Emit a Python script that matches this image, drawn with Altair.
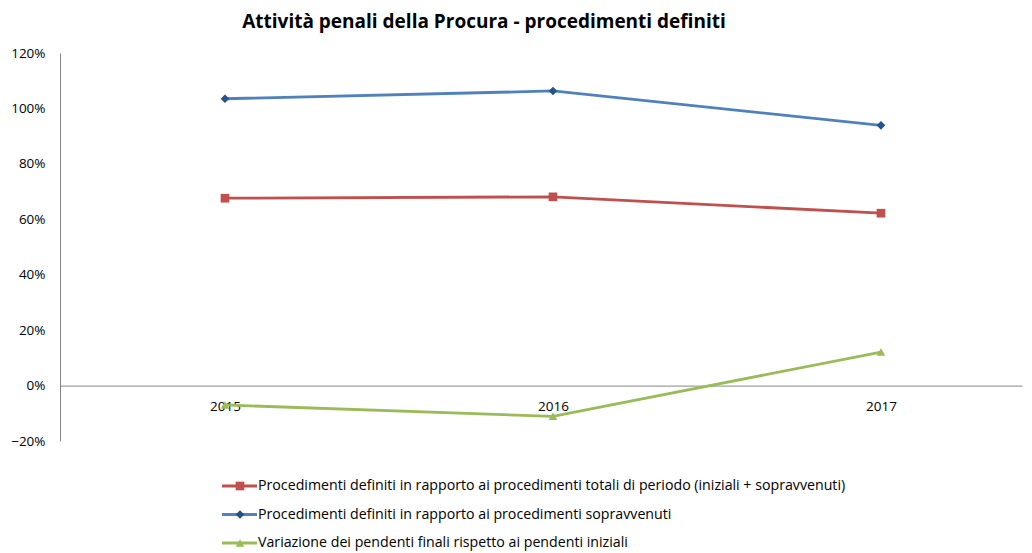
import altair as alt
import pandas as pd

years = [2015, 2016, 2017]
series_names = [
    "Procedimenti definiti in rapporto ai procedimenti totali di periodo (iniziali + sopravvenuti)",
    "Procedimenti definiti in rapporto ai procedimenti sopravvenuti",
    "Variazione dei pendenti finali rispetto ai pendenti iniziali",
]
definiti_totali = [0.676, 0.681, 0.622]
definiti_sopravvenuti = [1.035, 1.063, 0.939]
variazione_pendenti = [-0.070, -0.111, 0.121]
y_ticks = [-0.2, 0.0, 0.2, 0.4, 0.6, 0.8, 1.0, 1.2]
title_text = "Attività penali della Procura - procedimenti definiti"

line_colors = ["#C0504D", "#4F81BD", "#9BBB59"]
marker_colors = ["#C0504D", "#27518A", "#9BBB59"]
marker_shapes = ["square", "diamond", "triangle-up"]

rows = []
for name, vals in zip(series_names, [definiti_totali, definiti_sopravvenuti, variazione_pendenti]):
    for yr, v in zip(years, vals):
        rows.append({"series": name, "year": yr, "value": v})
df = pd.DataFrame(rows)
legend_df = pd.DataFrame({"series": series_names, "row": [0, 1, 2]})

FONT = "Open Sans"
AXIS_COLOR = "#868686"

x_scale = alt.Scale(domain=[2014.497, 2017.430], nice=False, zero=False)
x_axis = alt.Axis(values=years, format="d", title=None, offset=-55.4, ticks=False,
                  labelPadding=14, grid=False, domainColor=AXIS_COLOR,
                  labelFont=FONT, labelFontSize=13.5, labelColor="#000000")
y_scale = alt.Scale(domain=[-0.2, 1.2], nice=False, zero=False)
y_axis = alt.Axis(values=y_ticks, format=".0%", title=None, ticks=False, labelPadding=15,
                  grid=False, domainColor=AXIS_COLOR, labelFont=FONT, labelFontSize=13.5,
                  labelColor="#000000")

lines = alt.Chart(df).mark_line(strokeWidth=2.8).encode(
    x=alt.X("year:Q", scale=x_scale, axis=x_axis),
    y=alt.Y("value:Q", scale=y_scale, axis=y_axis),
    color=alt.Color("series:N", scale=alt.Scale(domain=series_names, range=line_colors), legend=None),
)
points = alt.Chart(df).mark_point(filled=True, size=75, opacity=1).encode(
    x=alt.X("year:Q", scale=x_scale, axis=x_axis),
    y=alt.Y("value:Q", scale=y_scale, axis=None),
    color=alt.Color("series:N", scale=alt.Scale(domain=series_names, range=marker_colors), legend=None),
    shape=alt.Shape("series:N", scale=alt.Scale(domain=series_names, range=marker_shapes), legend=None),
)

leg_y = alt.Y("row:Q", scale=alt.Scale(domain=[0, 2], range=[433, 490]), axis=None)
leg_rule = alt.Chart(legend_df).mark_rule(strokeWidth=2.8).encode(
    x=alt.value(162), x2=alt.value(197), y=leg_y,
    color=alt.Color("series:N", scale=alt.Scale(domain=series_names, range=line_colors), legend=None),
)
leg_points = alt.Chart(legend_df).mark_point(filled=True, size=75, opacity=1).encode(
    x=alt.value(180), y=leg_y,
    color=alt.Color("series:N", scale=alt.Scale(domain=series_names, range=marker_colors), legend=None),
    shape=alt.Shape("series:N", scale=alt.Scale(domain=series_names, range=marker_shapes), legend=None),
)
leg_text = alt.Chart(legend_df).mark_text(align="left", baseline="middle", font=FONT, fontSize=14.2,
                                          color="#000000").encode(
    x=alt.value(198), y=leg_y, text="series:N",
)

chart = alt.layer(lines, points, leg_rule, leg_points, leg_text).resolve_scale(
    y="independent", color="independent"
).properties(
    width=962,
    height=388,
    autosize="none",
    padding={"left": 52, "top": 45, "right": 2, "bottom": 112},
    title=alt.TitleParams(text=title_text, font=FONT, fontSize=19, fontWeight="bold",
                          anchor="middle", dx=-57, offset=14, color="#000000"),
    background="#FFFFFF",
).configure_view(stroke=None)

chart.save("out.html", embed_options={"renderer": "svg", "actions": False})
